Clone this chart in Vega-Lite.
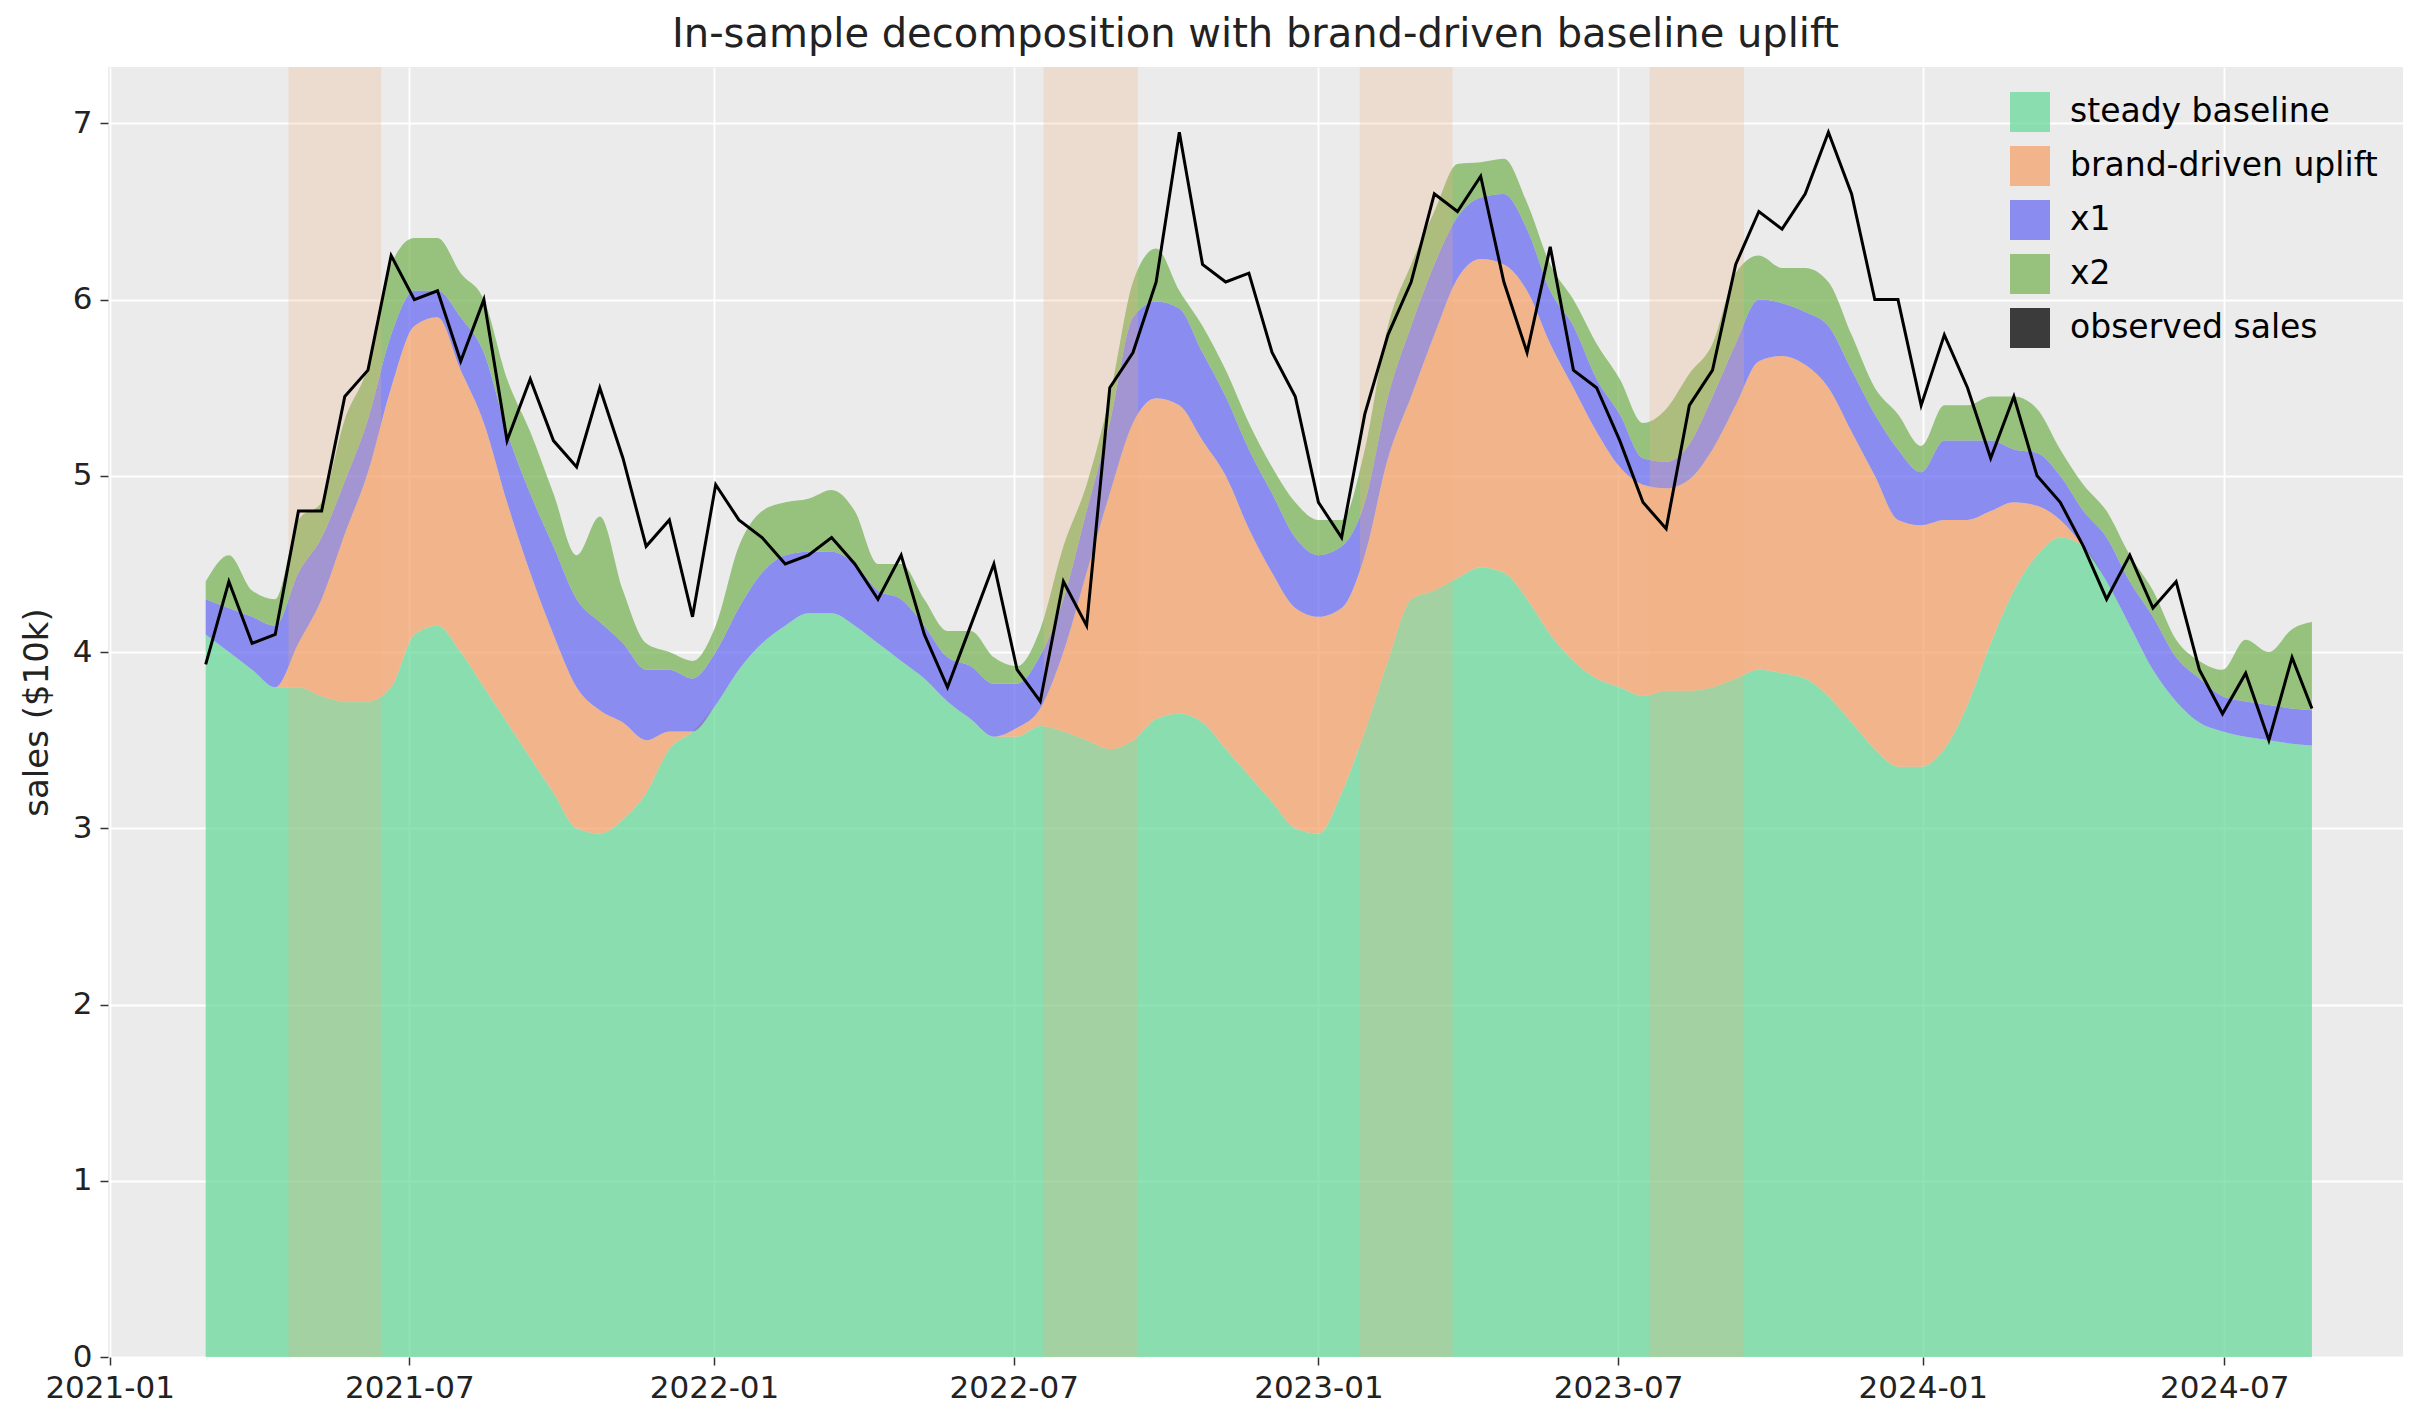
{
  "$schema": "https://vega.github.io/schema/vega-lite/v6.json",
  "width": 2423,
  "height": 1423,
  "autosize": {"type": "fit", "contains": "padding"},
  "background": "white",
  "padding": {"left": 20, "top": 15, "right": 20, "bottom": 20},
  "title": {"text": "In-sample decomposition with brand-driven baseline uplift", "fontSize": 40, "fontWeight": "normal", "font": "DejaVu Sans", "color": "#222", "offset": 12},
  "config": {
    "view": {"fill": "#ebebeb", "stroke": null},
    "font": "DejaVu Sans",
    "axis": {"gridColor": "white", "gridWidth": 1.8, "domain": false, "tickColor": "#333", "tickSize": 8, "tickWidth": 1.5, "labelFontSize": 31, "titleFontSize": 34, "titleFontWeight": "normal", "labelColor": "#222", "titleColor": "#222"}
  },
  "datasets": {
    "weeks": [
      {"d":"2021-02-28","base":4.1,"up":0,"x1":0.2,"x2":0.1,"obs":3.93},
      {"d":"2021-03-14","base":4.0,"up":0,"x1":0.25,"x2":0.3,"obs":4.4},
      {"d":"2021-03-28","base":3.9,"up":0,"x1":0.3,"x2":0.15,"obs":4.05},
      {"d":"2021-04-11","base":3.8,"up":0,"x1":0.35,"x2":0.15,"obs":4.1},
      {"d":"2021-04-25","base":3.8,"up":0.25,"x1":0.4,"x2":0.3,"obs":4.8},
      {"d":"2021-05-09","base":3.75,"up":0.55,"x1":0.35,"x2":0.2,"obs":4.8},
      {"d":"2021-05-23","base":3.72,"up":0.95,"x1":0.3,"x2":0.35,"obs":5.45},
      {"d":"2021-06-06","base":3.72,"up":1.3,"x1":0.3,"x2":0.3,"obs":5.6},
      {"d":"2021-06-20","base":3.8,"up":1.7,"x1":0.3,"x2":0.4,"obs":6.25},
      {"d":"2021-07-04","base":4.1,"up":1.75,"x1":0.2,"x2":0.3,"obs":6.0},
      {"d":"2021-07-18","base":4.15,"up":1.75,"x1":0.15,"x2":0.3,"obs":6.05},
      {"d":"2021-08-01","base":4.0,"up":1.6,"x1":0.3,"x2":0.25,"obs":5.65},
      {"d":"2021-08-15","base":3.8,"up":1.5,"x1":0.4,"x2":0.3,"obs":6.0},
      {"d":"2021-08-29","base":3.6,"up":1.25,"x1":0.4,"x2":0.3,"obs":5.2},
      {"d":"2021-09-12","base":3.4,"up":1.05,"x1":0.45,"x2":0.35,"obs":5.55},
      {"d":"2021-09-26","base":3.2,"up":0.9,"x1":0.5,"x2":0.3,"obs":5.2},
      {"d":"2021-10-10","base":3.0,"up":0.8,"x1":0.5,"x2":0.25,"obs":5.05},
      {"d":"2021-10-24","base":2.97,"up":0.7,"x1":0.5,"x2":0.6,"obs":5.5},
      {"d":"2021-11-07","base":3.05,"up":0.55,"x1":0.45,"x2":0.3,"obs":5.1},
      {"d":"2021-11-21","base":3.2,"up":0.3,"x1":0.4,"x2":0.15,"obs":4.6},
      {"d":"2021-12-05","base":3.45,"up":0.1,"x1":0.35,"x2":0.1,"obs":4.75},
      {"d":"2021-12-19","base":3.55,"up":0,"x1":0.3,"x2":0.1,"obs":4.2},
      {"d":"2022-01-02","base":3.7,"up":0,"x1":0.3,"x2":0.15,"obs":4.95},
      {"d":"2022-01-16","base":3.9,"up":0,"x1":0.35,"x2":0.35,"obs":4.75},
      {"d":"2022-01-30","base":4.05,"up":0,"x1":0.4,"x2":0.35,"obs":4.65},
      {"d":"2022-02-13","base":4.15,"up":0,"x1":0.4,"x2":0.3,"obs":4.5},
      {"d":"2022-02-27","base":4.22,"up":0,"x1":0.35,"x2":0.3,"obs":4.55},
      {"d":"2022-03-13","base":4.22,"up":0,"x1":0.35,"x2":0.35,"obs":4.65},
      {"d":"2022-03-27","base":4.15,"up":0,"x1":0.35,"x2":0.3,"obs":4.5},
      {"d":"2022-04-10","base":4.05,"up":0,"x1":0.3,"x2":0.15,"obs":4.3},
      {"d":"2022-04-24","base":3.95,"up":0,"x1":0.35,"x2":0.2,"obs":4.55},
      {"d":"2022-05-08","base":3.85,"up":0,"x1":0.3,"x2":0.15,"obs":4.1},
      {"d":"2022-05-22","base":3.72,"up":0,"x1":0.25,"x2":0.15,"obs":3.8},
      {"d":"2022-06-05","base":3.62,"up":0,"x1":0.3,"x2":0.2,"obs":4.15},
      {"d":"2022-06-19","base":3.52,"up":0,"x1":0.3,"x2":0.15,"obs":4.5},
      {"d":"2022-07-03","base":3.52,"up":0.05,"x1":0.25,"x2":0.1,"obs":3.9},
      {"d":"2022-07-17","base":3.58,"up":0.1,"x1":0.3,"x2":0.15,"obs":3.72},
      {"d":"2022-07-31","base":3.55,"up":0.45,"x1":0.3,"x2":0.3,"obs":4.4},
      {"d":"2022-08-14","base":3.5,"up":0.95,"x1":0.35,"x2":0.15,"obs":4.15},
      {"d":"2022-08-28","base":3.45,"up":1.45,"x1":0.4,"x2":0.15,"obs":5.5},
      {"d":"2022-09-11","base":3.5,"up":1.8,"x1":0.6,"x2":0.2,"obs":5.7},
      {"d":"2022-09-25","base":3.62,"up":1.82,"x1":0.55,"x2":0.3,"obs":6.1},
      {"d":"2022-10-09","base":3.65,"up":1.75,"x1":0.55,"x2":0.1,"obs":6.95},
      {"d":"2022-10-23","base":3.6,"up":1.6,"x1":0.5,"x2":0.15,"obs":6.2},
      {"d":"2022-11-06","base":3.45,"up":1.55,"x1":0.45,"x2":0.15,"obs":6.1},
      {"d":"2022-11-20","base":3.3,"up":1.4,"x1":0.45,"x2":0.15,"obs":6.15},
      {"d":"2022-12-04","base":3.15,"up":1.3,"x1":0.45,"x2":0.15,"obs":5.7},
      {"d":"2022-12-18","base":3.0,"up":1.25,"x1":0.4,"x2":0.2,"obs":5.45},
      {"d":"2023-01-01","base":2.97,"up":1.23,"x1":0.35,"x2":0.2,"obs":4.85},
      {"d":"2023-01-15","base":3.2,"up":1.05,"x1":0.35,"x2":0.15,"obs":4.65},
      {"d":"2023-01-29","base":3.55,"up":1.0,"x1":0.3,"x2":0.3,"obs":5.35},
      {"d":"2023-02-12","base":3.95,"up":1.15,"x1":0.35,"x2":0.4,"obs":5.8},
      {"d":"2023-02-26","base":4.3,"up":1.15,"x1":0.4,"x2":0.35,"obs":6.1},
      {"d":"2023-03-12","base":4.35,"up":1.45,"x1":0.4,"x2":0.3,"obs":6.6},
      {"d":"2023-03-26","base":4.42,"up":1.7,"x1":0.35,"x2":0.3,"obs":6.5},
      {"d":"2023-04-09","base":4.48,"up":1.75,"x1":0.35,"x2":0.2,"obs":6.7},
      {"d":"2023-04-23","base":4.45,"up":1.75,"x1":0.4,"x2":0.2,"obs":6.1},
      {"d":"2023-05-07","base":4.3,"up":1.75,"x1":0.35,"x2":0.15,"obs":5.7},
      {"d":"2023-05-21","base":4.1,"up":1.65,"x1":0.3,"x2":0.15,"obs":6.3},
      {"d":"2023-06-04","base":3.95,"up":1.55,"x1":0.35,"x2":0.15,"obs":5.6},
      {"d":"2023-06-18","base":3.85,"up":1.4,"x1":0.3,"x2":0.2,"obs":5.5},
      {"d":"2023-07-02","base":3.8,"up":1.25,"x1":0.3,"x2":0.2,"obs":5.2},
      {"d":"2023-07-16","base":3.75,"up":1.2,"x1":0.15,"x2":0.2,"obs":4.85},
      {"d":"2023-07-30","base":3.78,"up":1.15,"x1":0.15,"x2":0.3,"obs":4.7},
      {"d":"2023-08-13","base":3.78,"up":1.2,"x1":0.2,"x2":0.4,"obs":5.4},
      {"d":"2023-08-27","base":3.8,"up":1.35,"x1":0.3,"x2":0.3,"obs":5.6},
      {"d":"2023-09-10","base":3.85,"up":1.55,"x1":0.35,"x2":0.4,"obs":6.2},
      {"d":"2023-09-24","base":3.9,"up":1.75,"x1":0.35,"x2":0.25,"obs":6.5},
      {"d":"2023-10-08","base":3.88,"up":1.8,"x1":0.3,"x2":0.2,"obs":6.4},
      {"d":"2023-10-22","base":3.85,"up":1.78,"x1":0.3,"x2":0.25,"obs":6.6},
      {"d":"2023-11-05","base":3.75,"up":1.75,"x1":0.35,"x2":0.25,"obs":6.95},
      {"d":"2023-11-19","base":3.6,"up":1.65,"x1":0.35,"x2":0.2,"obs":6.6},
      {"d":"2023-12-03","base":3.45,"up":1.55,"x1":0.35,"x2":0.15,"obs":6.0},
      {"d":"2023-12-17","base":3.35,"up":1.4,"x1":0.4,"x2":0.2,"obs":6.0},
      {"d":"2023-12-31","base":3.35,"up":1.37,"x1":0.3,"x2":0.15,"obs":5.4},
      {"d":"2024-01-14","base":3.45,"up":1.3,"x1":0.45,"x2":0.2,"obs":5.8},
      {"d":"2024-01-28","base":3.7,"up":1.05,"x1":0.45,"x2":0.2,"obs":5.5},
      {"d":"2024-02-11","base":4.05,"up":0.75,"x1":0.4,"x2":0.25,"obs":5.1},
      {"d":"2024-02-25","base":4.35,"up":0.5,"x1":0.3,"x2":0.3,"obs":5.45},
      {"d":"2024-03-10","base":4.55,"up":0.28,"x1":0.3,"x2":0.25,"obs":5.0},
      {"d":"2024-03-24","base":4.65,"up":0.1,"x1":0.25,"x2":0.15,"obs":4.85},
      {"d":"2024-04-07","base":4.6,"up":0,"x1":0.2,"x2":0.15,"obs":4.6},
      {"d":"2024-04-21","base":4.4,"up":0,"x1":0.25,"x2":0.15,"obs":4.3},
      {"d":"2024-05-05","base":4.15,"up":0,"x1":0.25,"x2":0.15,"obs":4.55},
      {"d":"2024-05-19","base":3.9,"up":0,"x1":0.3,"x2":0.15,"obs":4.25},
      {"d":"2024-06-02","base":3.72,"up":0,"x1":0.25,"x2":0.1,"obs":4.4},
      {"d":"2024-06-16","base":3.6,"up":0,"x1":0.25,"x2":0.1,"obs":3.9},
      {"d":"2024-06-30","base":3.55,"up":0,"x1":0.2,"x2":0.15,"obs":3.65},
      {"d":"2024-07-14","base":3.52,"up":0,"x1":0.2,"x2":0.35,"obs":3.88},
      {"d":"2024-07-28","base":3.5,"up":0,"x1":0.2,"x2":0.3,"obs":3.5},
      {"d":"2024-08-11","base":3.48,"up":0,"x1":0.2,"x2":0.45,"obs":3.97},
      {"d":"2024-08-23","base":3.47,"up":0,"x1":0.2,"x2":0.5,"obs":3.68}
    ],
    "spans": [
      {"start":"2021-04-19","end":"2021-06-14"},
      {"start":"2022-07-19","end":"2022-09-14"},
      {"start":"2023-01-26","end":"2023-03-23"},
      {"start":"2023-07-20","end":"2023-09-15"}
    ]
  },
  "layer": [
    {
      "data": {"name": "weeks"},
      "transform": [
        {"fold": ["base", "up", "x1", "x2", "obs"], "as": ["key", "value"]},
        {"calculate": "{'base':'steady baseline','up':'brand-driven uplift','x1':'x1','x2':'x2','obs':'observed sales'}[datum.key]", "as": "series"},
        {"filter": "datum.key != 'obs'"}
      ],
      "mark": {"type": "area", "opacity": 0.75, "interpolate": "monotone"},
      "encoding": {
        "x": {"field": "d", "type": "temporal", "scale": {"domain": ["2020-12-31", "2024-10-17"]},
          "axis": {"title": null, "format": "%Y-%m", "grid": true, "labelPadding": 8,
            "values": [{"year":2021,"month":1,"date":1},{"year":2021,"month":7,"date":1},{"year":2022,"month":1,"date":1},{"year":2022,"month":7,"date":1},{"year":2023,"month":1,"date":1},{"year":2023,"month":7,"date":1},{"year":2024,"month":1,"date":1},{"year":2024,"month":7,"date":1}]}},
        "y": {"field": "value", "type": "quantitative", "stack": "zero", "scale": {"domain": [0, 7.32], "nice": false},
          "axis": {"title": "sales ($10k)", "values": [0,1,2,3,4,5,6,7], "format": "d", "titlePadding": 18, "labelPadding": 8}},
        "color": {"field": "series", "type": "nominal",
          "sort": ["steady baseline", "brand-driven uplift", "x1", "x2", "observed sales"],
          "scale": {"domain": ["steady baseline", "brand-driven uplift", "x1", "x2", "observed sales"], "range": ["#6ad89a", "#f4a36b", "#6a6ef0", "#79b45a", "#000000"]},
          "legend": {"title": null, "orient": "top-right", "labelFontSize": 33, "labelLimit": 600, "symbolType": "square", "symbolSize": 1600, "symbolOpacity": 0.75, "rowPadding": 14, "labelOffset": 20, "offset": 25, "symbolStrokeWidth": 0}},
        "order": {"field": "key", "type": "nominal"}
      }
    },
    {
      "data": {"name": "spans"},
      "mark": {"type": "rect", "color": "#f0b07a", "opacity": 0.25},
      "encoding": {
        "x": {"field": "start", "type": "temporal"},
        "x2": {"field": "end"},
        "y": {"datum": 0},
        "y2": {"datum": 7.32}
      }
    },
    {
      "data": {"name": "weeks"},
      "mark": {"type": "line", "color": "black", "strokeWidth": 3},
      "encoding": {
        "x": {"field": "d", "type": "temporal"},
        "y": {"field": "obs", "type": "quantitative"}
      }
    }
  ]
}
